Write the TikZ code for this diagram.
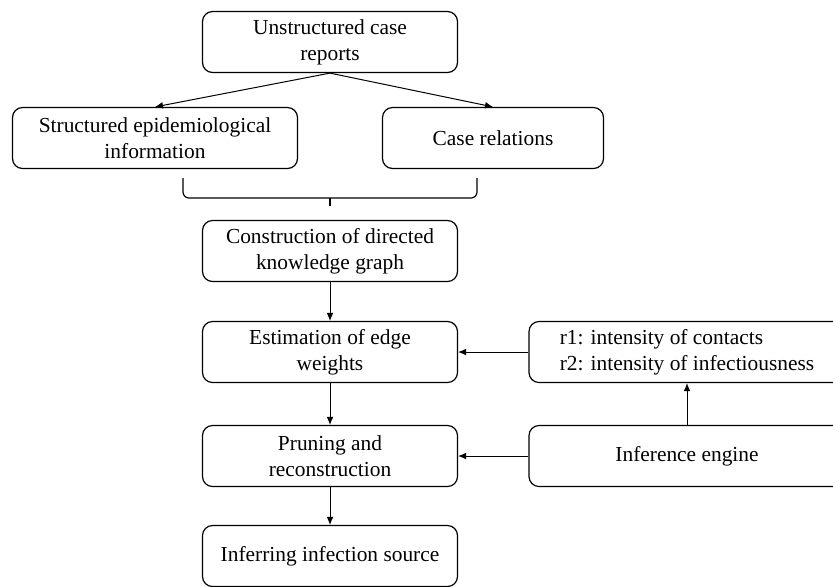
\documentclass[tikz,border=0pt]{standalone}
\usepackage{fontspec}
\setmainfont{Liberation Serif}
\usetikzlibrary{arrows.meta}

\begin{document}
\begin{tikzpicture}[x=0.5pt,y=-0.5pt]
   \tikzstyle{box}=[draw, rounded corners=5pt, align=center, minimum height=30.5pt, inner sep=2pt, line width=0.6pt, font=\fontsize{10.7}{13}\selectfont]
   \tikzstyle{link}=[-{Latex[length=4pt,width=3.4pt]}, line width=0.5pt]

\useasboundingbox (0,0) rectangle (833,586);

\node[box, minimum width=127.5pt] (reports) at (330,42) {Unstructured case\\reports};
\node[box, minimum width=142.5pt] (structured) at (155,138) {Structured epidemiological\\information};
\node[box, minimum width=110.5pt] (relations) at (493,138) {Case relations};
\node[box, minimum width=127.5pt] (graph) at (330,251) {Construction of directed\\knowledge graph};
\node[box, minimum width=127.5pt] (weights) at (330,352) {Estimation of edge\\weights};
\node[box, minimum width=158pt, align=left] (factors) at (687,352) {r1: intensity of contacts\\r2: intensity of infectiousness};
\node[box, minimum width=127.5pt] (pruning) at (330,456) {Pruning and\\reconstruction};
\node[box, minimum width=158pt] (engine) at (687,456) {Inference engine};
\node[box, minimum width=127.5pt] (source) at (330,556) {Inferring infection source};

% brace under the two outputs
\coordinate (bl) at (183,178);
\coordinate (br) at (477,178);
\coordinate (bm) at (330,198);
\draw[line width=0.6pt, rounded corners=3pt] (bl) |- (bm) -| (br);
\draw[line width=0.9pt] (bm) -- ++(0,8);

\draw[link] (reports.south) -- (structured.north);
\draw[link] (reports.south) -- (relations.north);
\draw[link] (graph) -- (weights);
\draw[link] (weights) -- (pruning);
\draw[link] (pruning) -- (source);
\draw[link] (factors) -- (weights);
\draw[link] (engine) -- (pruning);
\draw[link] (engine) -- (factors);

\end{tikzpicture}
\end{document}
